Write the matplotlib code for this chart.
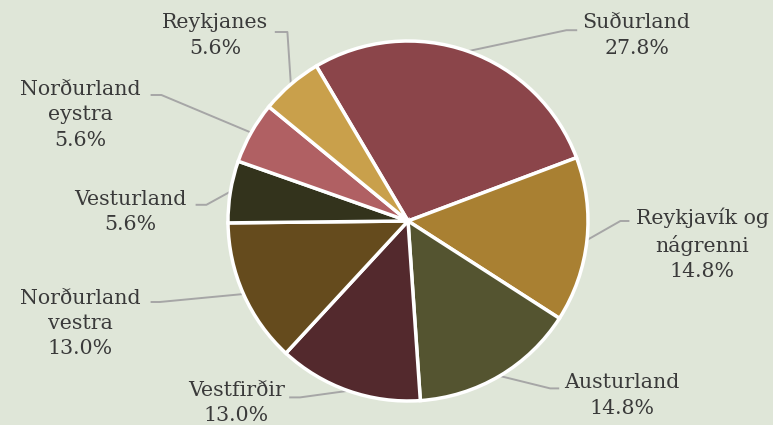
import numpy as np
import matplotlib.pyplot as plt

regions = ['Suðurland', 'Reykjavík og\nnágrenni', 'Austurland', 'Vestfirðir',
           'Norðurland\nvestra', 'Vesturland', 'Norðurland\neystra', 'Reykjanes']
counts = [15, 8, 8, 7, 7, 3, 3, 3]
colors = ['#8b454a', '#a98032', '#545430', '#53292d',
          '#654b1d', '#33331c', '#b06063', '#c9a04b']

# label layout in pie units (radius = 1): text centre, elbow, line end
label_pos = [(1.27, 1.03), (1.635, -0.13), (1.19, -0.97), (-0.955, -1.01),
             (-1.82, -0.57), (-1.54, 0.05), (-1.82, 0.59), (-1.07, 1.03)]
elbows = [((0.88, 1.06), (0.94, 1.06)), ((1.18, 0.0), (1.23, 0.0)),
          ((0.79, -0.93), (0.84, -0.93)), ((-0.60, -0.98), (-0.66, -0.98)),
          ((-1.38, -0.45), (-1.43, -0.45)), ((-1.12, 0.09), (-1.18, 0.09)),
          ((-1.37, 0.70), (-1.43, 0.70)), ((-0.67, 1.05), (-0.74, 1.05))]

bg = '#dfe6d8'
fig = plt.figure(figsize=(7.73, 4.25), dpi=100, facecolor=bg)
ax = fig.add_axes([0, 0, 1, 1])
ax.set_facecolor(bg)

start = 120.6
wedges, _ = ax.pie(counts, colors=colors, startangle=start, counterclock=False,
                   wedgeprops=dict(edgecolor='white', linewidth=2.5))

total = sum(counts)
for w, name, n, (tx, ty), (e1, e2) in zip(wedges, regions, counts, label_pos, elbows):
    mid = np.deg2rad((w.theta1 + w.theta2) / 2)
    p = (np.cos(mid), np.sin(mid))
    ax.plot([p[0], e1[0], e2[0]], [p[1], e1[1], e2[1]], color='#a6a6a6', lw=1.4,
            solid_capstyle='butt', zorder=0.5)
    ax.text(tx, ty, '%s\n%.1f%%' % (name, 100 * n / total), ha='center', va='center',
            fontsize=14.8, family='DejaVu Serif', color='#3a3a3a', linespacing=1.42)

ax.set_aspect('auto')
ax.set_xlim(-408 / 180, 365 / 180)
ax.set_ylim(-204 / 180, 221 / 180)
ax.axis('off')

fig.savefig('out.png', dpi=100, facecolor=bg)
